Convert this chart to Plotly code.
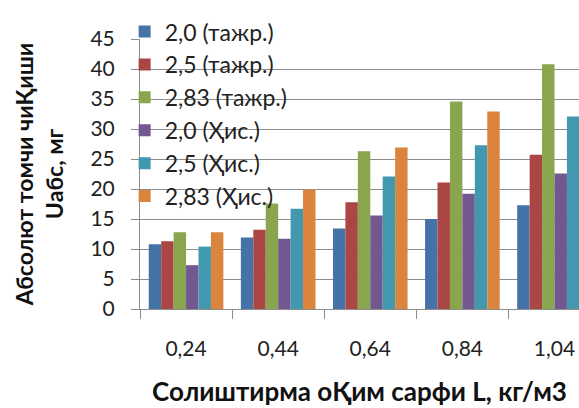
import plotly.graph_objects as go

# Categories: specific sorbent consumption L, kg/m3
categories = ["0,24", "0,44", "0,64", "0,84", "1,04"]

# Absolute droplet carry-over U, mg, per series
series_names = ["2,0 (тажр.)", "2,5 (тажр.)", "2,83 (тажр.)",
                "2,0 (Ҳис.)", "2,5 (Ҳис.)", "2,83 (Ҳис.)"]
v_20_exp = [10.8, 11.9, 13.4, 15.0, 17.3]
v_25_exp = [11.3, 13.2, 17.8, 21.1, 25.7]
v_283_exp = [12.8, 17.6, 26.3, 34.6, 40.8]
v_20_calc = [7.3, 11.7, 15.6, 19.2, 22.6]
v_25_calc = [10.4, 16.7, 22.1, 27.3, 32.1]
v_283_calc = [12.8, 19.9, 26.9, 32.9, 38.0]

series_values = [v_20_exp, v_25_exp, v_283_exp, v_20_calc, v_25_calc, v_283_calc]
colors = ["#4572A7", "#AA4643", "#89A54E", "#71588F", "#4198AF", "#DB843D"]

FONT = "Lato, 'Open Sans', sans-serif"
GRID = "#8c8c8c"

fig = go.Figure()
for i, (name, vals, col) in enumerate(zip(series_names, series_values, colors)):
    fig.add_trace(go.Bar(
        x=categories, y=vals, name=name, legendgroup=f"g{i}",
        marker=dict(color=col, line=dict(width=0)),
    ))

fig.update_layout(
    width=579, height=408,
    margin=dict(l=140, r=0, t=39, b=99),
    paper_bgcolor="white", plot_bgcolor="white",
    barmode="group", bargap=0.19, bargroupgap=0,
    font=dict(family=FONT, color="#222222"),
    legend=dict(
        x=-0.035, y=1.107, xanchor="left", yanchor="top",
        bgcolor="rgba(0,0,0,0)", font=dict(size=23, family=FONT, color="#222222"),
        tracegroupgap=0, traceorder="normal", maxheight=400,
    ),
    xaxis=dict(
        range=[-0.5, 4.266], type="category", tickson="boundaries",
        showgrid=False, showline=True, linecolor=GRID, linewidth=1,
        ticks="outside", ticklen=9, tickcolor=GRID,
        tickfont=dict(size=21, family=FONT, color="#222222"),
        ticklabelstandoff=21,
        title=dict(text="<b>Солиштирма оҚим сарфи L, кг/м3</b>",
                   font=dict(size=26, family=FONT, color="#111111"), standoff=23),
    ),
    yaxis=dict(
        range=[0, 45], dtick=5, showgrid=True, gridcolor=GRID, gridwidth=1,
        showline=True, linecolor=GRID, linewidth=1, zeroline=False,
        ticks="outside", ticklen=8, tickcolor=GRID,
        tickfont=dict(size=21, family=FONT, color="#222222"),
        ticklabelstandoff=12,
        title=dict(text="<b>Абсолют томчи чиҚиши<br>Uабс, мг</b>",
                   font=dict(size=23, family=FONT, color="#111111"), standoff=20),
    ),
)

fig.write_html("out.html")
